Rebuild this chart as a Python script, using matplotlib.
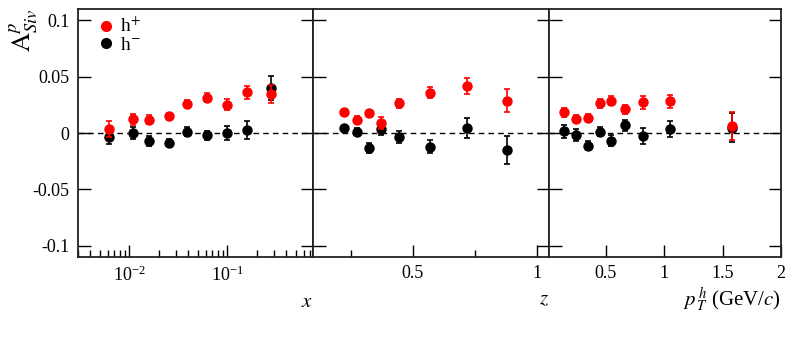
import matplotlib
matplotlib.use("Agg")
import matplotlib.pyplot as plt
from matplotlib.lines import Line2D
from matplotlib.ticker import FixedLocator, NullLocator, LogLocator, NullFormatter

plt.rcParams['font.family'] = ['Liberation Serif', 'DejaVu Serif']
plt.rcParams['mathtext.fontset'] = 'stix'

# --- data ---
x_bins = [0.00625, 0.011, 0.016, 0.0256, 0.039, 0.0625, 0.1, 0.16, 0.28]
x_pos = [0.0033, 0.0121, 0.0118, 0.0148, 0.026, 0.0314, 0.0251, 0.0361, 0.0346]
x_pos_err = [0.007, 0.005, 0.004, 0.003, 0.003, 0.004, 0.005, 0.006, 0.008]
x_neg = [-0.0038, 0.0, -0.0071, -0.0086, 0.0012, -0.0018, 0.0, 0.0027, 0.040]
x_neg_err = [0.006, 0.005, 0.004, 0.003, 0.004, 0.004, 0.006, 0.008, 0.011]

z_bins = [0.223, 0.274, 0.324, 0.373, 0.446, 0.569, 0.719, 0.879]
z_pos = [0.0183, 0.0118, 0.0175, 0.0089, 0.0263, 0.0358, 0.042, 0.0287]
z_pos_err = [0.002, 0.003, 0.003, 0.005, 0.004, 0.005, 0.007, 0.010]
z_neg = [0.0044, 0.0012, -0.0133, 0.0038, -0.0036, -0.0121, 0.0047, -0.0151]
z_neg_err = [0.002, 0.003, 0.004, 0.006, 0.005, 0.006, 0.009, 0.012]

pt_bins = [0.146, 0.246, 0.349, 0.449, 0.548, 0.668, 0.819, 1.05, 1.58]
pt_pos = [0.0183, 0.0127, 0.0136, 0.0263, 0.0284, 0.021, 0.0272, 0.0281, 0.0062]
pt_pos_err = [0.004, 0.003, 0.003, 0.004, 0.004, 0.004, 0.006, 0.006, 0.012]
pt_neg = [0.0015, -0.0018, -0.0115, 0.0012, -0.0068, 0.0068, -0.0027, 0.0033, 0.0047]
pt_neg_err = [0.006, 0.005, 0.004, 0.004, 0.005, 0.005, 0.007, 0.007, 0.013]

RED = '#ff0000'

fig = plt.figure(figsize=(7.85, 3.39), dpi=100)
W, H = 785.0, 339.0
bottom, top = 1 - 257 / H, 1 - 9 / H
edges = [78, 313, 549, 781]
axes = []
for i in range(3):
    ax = fig.add_axes([edges[i] / W, bottom, (edges[i + 1] - edges[i]) / W, top - bottom])
    axes.append(ax)

panels = [
    (x_bins, x_pos, x_pos_err, x_neg, x_neg_err),
    (z_bins, z_pos, z_pos_err, z_neg, z_neg_err),
    (pt_bins, pt_pos, pt_pos_err, pt_neg, pt_neg_err),
]

for ax, (xb, yp, ep, yn, en) in zip(axes, panels):
    ax.axhline(0, color='black', ls=(0, (4, 3)), lw=1.0, zorder=1)
    ax.errorbar(xb, yn, yerr=en, fmt='o', color='black', ms=6.5, capsize=2,
                elinewidth=1.2, capthick=1.2, zorder=3)
    ax.errorbar(xb, yp, yerr=ep, fmt='o', color=RED, ms=6.5, capsize=2,
                elinewidth=1.2, capthick=1.2, zorder=4)
    ax.set_ylim(-0.11, 0.11)
    ax.yaxis.set_major_locator(FixedLocator([-0.1, -0.05, 0, 0.05, 0.1]))
    ax.tick_params(axis='both', which='both', direction='in', top=False, right=True,
                   labelsize=13, pad=6)
    ax.tick_params(axis='both', which='major', length=9, width=1.0)
    ax.tick_params(axis='both', which='minor', length=5, width=1.0)
    for s in ax.spines.values():
        s.set_linewidth(1.3)
        s.set_color('#222222')

# left panel: x (log)
a0 = axes[0]
a0.set_xscale('log')
a0.set_xlim(0.003, 0.75)
a0.xaxis.set_major_locator(FixedLocator([0.01, 0.1]))
a0.xaxis.set_minor_locator(LogLocator(base=10, subs=range(2, 10)))
a0.xaxis.set_minor_formatter(NullFormatter())
a0.set_yticklabels(['-0.1', '-0.05', '0', '0.05', '0.1'])
a0.set_xlabel('$x$', fontsize=15, loc='right', labelpad=6)

handles = [Line2D([], [], ls='none', marker='o', ms=7, color=RED),
           Line2D([], [], ls='none', marker='o', ms=7, color='black')]
a0.legend(handles, ['h$^{+}$', 'h$^{-}$'], loc='upper left', frameon=False, fontsize=14,
          handletextpad=0.2, borderaxespad=0.0, labelspacing=0.0,
          handlelength=1.0, bbox_to_anchor=(0.045, 1.0))

fig.text(24 / W, 1 - 30 / H, r'$\mathrm{A}^{p}_{Siv}$', fontsize=19, rotation=90,
         ha='center', va='center')

# middle panel: z
a1 = axes[1]
a1.set_xlim(0.098, 1.05)
a1.xaxis.set_major_locator(FixedLocator([0.5, 1.0]))
a1.xaxis.set_minor_locator(FixedLocator([0.25, 0.75]))
a1.set_xticklabels(['0.5', '1'])
a1.set_yticklabels([])
a1.set_xlabel('$z$', fontsize=15, loc='right', labelpad=6)

# right panel: pT
a2 = axes[2]
a2.set_xlim(0.015, 2.0)
a2.xaxis.set_major_locator(FixedLocator([0.5, 1.0, 1.5, 2.0]))
a2.xaxis.set_minor_locator(NullLocator())
a2.set_xticklabels(['0.5', '1', '1.5', '2'])
a2.set_yticklabels([])
a2.set_xlabel(r'$p^{\,h}_{\,T}$ (GeV/$c$)', fontsize=15, loc='right', labelpad=2)

fig.savefig('out.png', dpi=100)
